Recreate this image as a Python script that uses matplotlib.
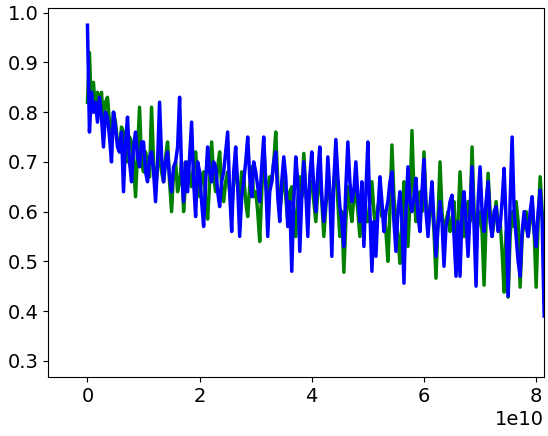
import numpy as np
import matplotlib
matplotlib.use('Agg')
import matplotlib.pyplot as plt

# values, evenly spaced steps from 0 to ~8.15e10
blue_vals = [0.975, 0.76, 0.84, 0.80, 0.82, 0.78, 0.83, 0.79, 0.73, 0.80,
             0.79, 0.75, 0.70, 0.80, 0.77, 0.73, 0.72, 0.76, 0.64, 0.74,
             0.79, 0.70, 0.66, 0.73, 0.76, 0.71, 0.69, 0.74, 0.74, 0.68,
             0.66, 0.71, 0.72, 0.68, 0.62, 0.70, 0.82, 0.71, 0.66, 0.70,
             0.72, 0.67, 0.64, 0.69, 0.70, 0.73, 0.83, 0.68, 0.62, 0.70,
             0.64, 0.71, 0.78, 0.66, 0.59, 0.70, 0.68, 0.62, 0.57, 0.66,
             0.73, 0.68, 0.66, 0.70, 0.69, 0.64, 0.61, 0.66, 0.68, 0.72,
             0.76, 0.64, 0.56, 0.68, 0.73, 0.65, 0.55, 0.63, 0.66, 0.70,
             0.75, 0.67, 0.63, 0.70, 0.68, 0.65, 0.62, 0.69, 0.75, 0.66,
             0.55, 0.64, 0.66, 0.70, 0.72, 0.63, 0.58, 0.66, 0.71, 0.67,
             0.57, 0.62, 0.48, 0.62, 0.71, 0.66, 0.52, 0.63, 0.70, 0.64,
             0.55, 0.67, 0.72, 0.65, 0.60, 0.68, 0.73, 0.63, 0.58, 0.62,
             0.71, 0.64, 0.51, 0.66, 0.745, 0.67, 0.61, 0.58, 0.53, 0.65,
             0.74, 0.66, 0.62, 0.64, 0.70, 0.63, 0.58, 0.66, 0.53, 0.64,
             0.74, 0.60, 0.48, 0.58, 0.51, 0.60, 0.67, 0.62, 0.56, 0.60,
             0.62, 0.66, 0.68, 0.58, 0.52, 0.60, 0.64, 0.58, 0.456, 0.60,
             0.69, 0.62, 0.60, 0.63, 0.667, 0.59, 0.56, 0.64, 0.705, 0.60,
             0.55, 0.61, 0.66, 0.58, 0.51, 0.57, 0.62, 0.58, 0.49, 0.57,
             0.59, 0.62, 0.633, 0.55, 0.47, 0.58, 0.47, 0.60, 0.64, 0.58,
             0.51, 0.60, 0.69, 0.57, 0.45, 0.62, 0.69, 0.60, 0.56, 0.62,
             0.66, 0.58, 0.55, 0.60, 0.61, 0.56, 0.57, 0.62, 0.687, 0.58,
             0.43, 0.62, 0.75, 0.60, 0.55, 0.50, 0.47, 0.56, 0.60, 0.57,
             0.55, 0.60, 0.63, 0.56, 0.53, 0.60, 0.643, 0.58, 0.39]

green_vals = [0.82, 0.92, 0.80, 0.86, 0.80, 0.84, 0.81, 0.84, 0.78, 0.82,
              0.83, 0.78, 0.75, 0.80, 0.78, 0.74, 0.72, 0.77, 0.76, 0.72,
              0.70, 0.75, 0.74, 0.70, 0.63, 0.72, 0.81, 0.70, 0.68, 0.72,
              0.70, 0.67, 0.81, 0.70, 0.64, 0.69, 0.72, 0.68, 0.66, 0.71,
              0.74, 0.66, 0.60, 0.68, 0.70, 0.64, 0.66, 0.70, 0.60, 0.66,
              0.70, 0.67, 0.65, 0.69, 0.72, 0.66, 0.63, 0.67, 0.68, 0.62,
              0.585, 0.66, 0.74, 0.67, 0.64, 0.69, 0.72, 0.65, 0.62, 0.66,
              0.68, 0.64, 0.60, 0.66, 0.70, 0.65, 0.63, 0.68, 0.67, 0.62,
              0.59, 0.65, 0.69, 0.63, 0.64, 0.60, 0.54, 0.64, 0.73, 0.66,
              0.62, 0.67, 0.66, 0.70, 0.76, 0.66, 0.60, 0.64, 0.68, 0.63,
              0.58, 0.64, 0.65, 0.60, 0.55, 0.62, 0.67, 0.63, 0.717, 0.64,
              0.60, 0.65, 0.66, 0.62, 0.58, 0.64, 0.68, 0.62, 0.55, 0.61,
              0.66, 0.63, 0.60, 0.66, 0.70, 0.62, 0.55, 0.60, 0.478, 0.58,
              0.65, 0.61, 0.58, 0.63, 0.64, 0.60, 0.55, 0.61, 0.62, 0.58,
              0.58, 0.62, 0.66, 0.60, 0.56, 0.61, 0.63, 0.59, 0.60, 0.56,
              0.50, 0.60, 0.734, 0.63, 0.58, 0.55, 0.496, 0.58, 0.66, 0.60,
              0.53, 0.62, 0.763, 0.64, 0.58, 0.62, 0.64, 0.60, 0.72, 0.62,
              0.57, 0.60, 0.62, 0.56, 0.466, 0.58, 0.70, 0.60, 0.55, 0.58,
              0.60, 0.56, 0.58, 0.62, 0.482, 0.58, 0.68, 0.60, 0.55, 0.59,
              0.62, 0.58, 0.73, 0.60, 0.54, 0.58, 0.60, 0.56, 0.452, 0.58,
              0.677, 0.60, 0.55, 0.58, 0.62, 0.57, 0.58, 0.52, 0.438, 0.56,
              0.428, 0.55, 0.60, 0.57, 0.62, 0.58, 0.448, 0.55, 0.58, 0.60,
              0.55, 0.58, 0.62, 0.56, 0.448, 0.58, 0.67, 0.60, 0.55]

x_end = 8.15e10
steps = np.linspace(0, x_end, len(blue_vals))

plt.rcParams['font.size'] = 14

fig = plt.figure(figsize=(5.48, 4.36), dpi=100)
ax = fig.add_axes([0.088, 0.135, 0.905, 0.846])
ax.plot(steps, green_vals, color='green', linewidth=2.5)
ax.plot(steps, blue_vals, color='blue', linewidth=2.5)
ax.set_xlim(-0.70e10, x_end)
ax.set_ylim(0.267, 1.009)

fig.savefig('out.png', dpi=100)
